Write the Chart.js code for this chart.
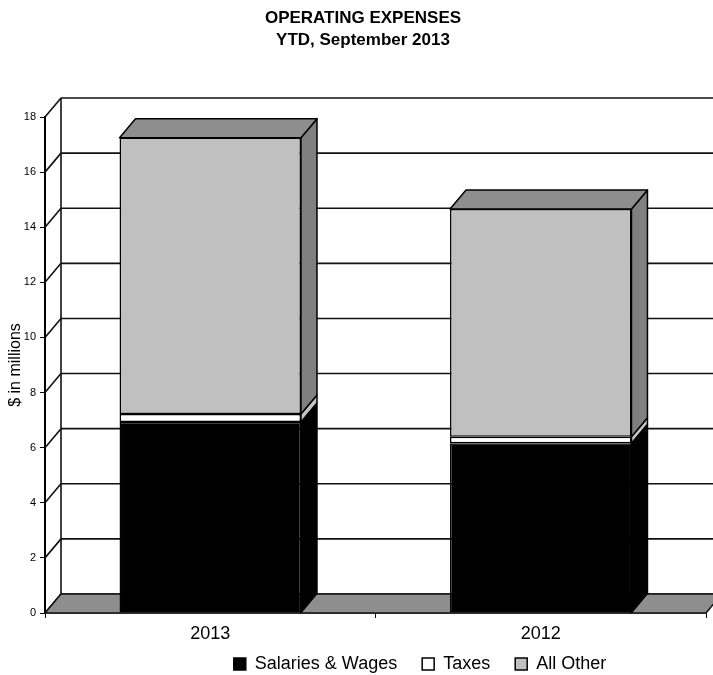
<!DOCTYPE html>
<html><head><meta charset="utf-8">
<script src="https://cdn.jsdelivr.net/npm/chart.js@4/dist/chart.umd.min.js"></script>
<style>html,body{margin:0;padding:0;background:#fff}canvas{display:block}</style>
</head><body>
<canvas id="c" width="713" height="675"></canvas>
<script>
// ---- data ----
const categories = ['2013', '2012'];
const salariesWages = [6.93, 6.16];
const taxes = [0.29, 0.24];
const allOther = [10.03, 8.26];
const seriesNames = ['Salaries & Wages', 'Taxes', 'All Other'];
const titleLines = ['OPERATING EXPENSES', 'YTD, September 2013'];
const yAxisTitle = '$ in millions';
const yMin = 0, yMax = 18, yStep = 2;

// ---- style ----
const FONT = "'Liberation Sans', Arial, sans-serif";
const DX = 16, DY = -19;
const faceColors = ['#000000', '#ffffff', '#c0c0c0'];
const sideColors = ['#000000', '#c4c4c4', '#808080'];
const topColor = '#8e8e8e';
const floorColor = '#8e8e8e';
const LINE = '#111111';
const LEGEND_SHIFT_X = 67, LEGEND_SHIFT_Y = 8;
const TITLE_SHIFT_X = 10;
const X_AXIS_BOX = 9;
const X_LABEL_BAND = 40;

function poly(ctx, pts, fill, stroke, lw) {
  ctx.beginPath();
  ctx.moveTo(pts[0][0], pts[0][1]);
  for (let i = 1; i < pts.length; i++) ctx.lineTo(pts[i][0], pts[i][1]);
  ctx.closePath();
  if (fill) { ctx.fillStyle = fill; ctx.fill(); }
  if (stroke) { ctx.strokeStyle = stroke; ctx.lineWidth = lw; ctx.lineJoin = 'round'; ctx.stroke(); }
}
function line(ctx, x1, y1, x2, y2, lw) {
  ctx.beginPath(); ctx.moveTo(x1, y1); ctx.lineTo(x2, y2);
  ctx.strokeStyle = LINE; ctx.lineWidth = lw; ctx.stroke();
}

const threeD = {
  id: 'threeD',
  afterLayout(chart) {
    const lg = chart.legend;
    if (lg) {
      lg.left += LEGEND_SHIFT_X; lg.right += LEGEND_SHIFT_X;
      lg.top += LEGEND_SHIFT_Y; lg.bottom += LEGEND_SHIFT_Y;
    }
    const tb = chart.titleBlock;
    if (tb) { tb.left += TITLE_SHIFT_X; tb.right += TITLE_SHIFT_X; }
    const xs = chart.scales.x;
    xs.bottom = xs.top + X_LABEL_BAND;
  },
  beforeDatasetsDraw(chart) {
    const { ctx, chartArea: ca, scales: { y } } = chart;
    const y0 = y.getPixelForValue(yMin);
    const yT = y.getPixelForValue(yMax);
    ctx.save();
    y.ticks.forEach(t => {
      const yy = y.getPixelForValue(t.value);
      line(ctx, ca.left, yy, ca.left + DX, yy + DY, 1.6);
      line(ctx, ca.left + DX, yy + DY, ca.right + DX + 20, yy + DY, 1.6);
    });
    line(ctx, ca.left + DX, yT + DY, ca.left + DX, y0 + DY, 1.6);
    poly(ctx, [[ca.left, y0], [ca.right, y0], [ca.right + DX, y0 + DY], [ca.left + DX, y0 + DY]], floorColor, LINE, 1.5);
    ctx.restore();
  },
  afterDatasetsDraw(chart) {
    const { ctx } = chart;
    ctx.save();
    const n = chart.data.labels.length;
    const nd = chart.data.datasets.length;
    for (let i = 0; i < n; i++) {
      let topEl = null;
      for (let d = 0; d < nd; d++) {
        const el = chart.getDatasetMeta(d).data[i];
        const xr = el.x + el.width / 2;
        const yt = Math.min(el.y, el.base), yb = Math.max(el.y, el.base);
        poly(ctx, [[xr, yt], [xr + DX, yt + DY], [xr + DX, yb + DY], [xr, yb]], sideColors[d], '#000', 1.5);
        topEl = el;
      }
      if (topEl) {
        const xl = topEl.x - topEl.width / 2, xr = topEl.x + topEl.width / 2;
        const yt = Math.min(topEl.y, topEl.base);
        poly(ctx, [[xl, yt], [xl + DX, yt + DY], [xr + DX, yt + DY], [xr, yt]], topColor, '#000', 1.5);
      }
    }
    ctx.restore();
  }
};

const seriesValues = [salariesWages, taxes, allOther];
const datasets = seriesNames.map((name, d) => ({
  label: name,
  data: seriesValues[d],
  backgroundColor: faceColors[d],
  borderColor: '#000000',
  borderWidth: 1.5,
  borderSkipped: false,
  barPercentage: 0.549,
  categoryPercentage: 1.0
}));

new Chart(document.getElementById('c'), {
  type: 'bar',
  data: { labels: categories, datasets },
  plugins: [threeD],
  options: {
    responsive: false,
    animation: false,
    events: [],
    layout: { padding: { left: 0, right: 7, top: 0, bottom: 0 } },
    plugins: {
      tooltip: { enabled: false },
      title: {
        display: true,
        text: titleLines,
        color: '#000',
        font: { family: FONT, size: 17, weight: 'bold', lineHeight: 1.25 },
        padding: { top: 8, bottom: 66.5 }
      },
      legend: {
        display: true,
        position: 'bottom',
        labels: {
          color: '#000',
          font: { family: FONT, size: 18 },
          boxWidth: 12,
          boxHeight: 12,
          padding: 25
        }
      }
    },
    scales: {
      x: {
        stacked: true,
        offset: true,
        afterFit(scale) { scale.height = X_AXIS_BOX; },
        border: { display: true, color: '#000', width: 1.5 },
        grid: { display: true, drawOnChartArea: false, drawTicks: true, tickLength: 5, color: '#000', offset: true },
        ticks: { color: '#000', font: { family: FONT, size: 18 }, padding: 5, maxRotation: 0, autoSkip: false }
      },
      y: {
        stacked: true,
        min: yMin,
        max: yMax,
        afterFit(scale) { scale.width = 45; },
        border: { display: true, color: '#000', width: 2 },
        grid: { display: true, drawOnChartArea: false, drawTicks: true, tickLength: 5, color: '#000' },
        ticks: { stepSize: yStep, color: '#000', font: { family: FONT, size: 11 }, padding: 4 },
        title: { display: true, text: yAxisTitle, color: '#000', font: { family: FONT, size: 16 }, padding: { top: 6, bottom: 0 } }
      }
    }
  }
});
</script>
</body></html>
